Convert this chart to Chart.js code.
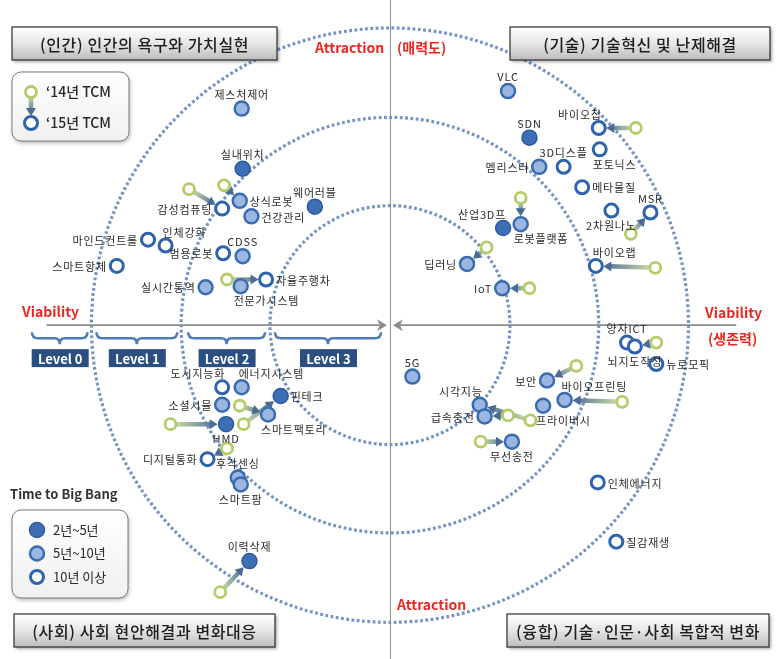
<!DOCTYPE html>
<html>
<head>
<meta charset="utf-8">
<script src="https://cdn.jsdelivr.net/npm/chart.js@4.4.0/dist/chart.umd.min.js"></script>
<style>
  html, body { margin: 0; padding: 0; background: #fff; }
  canvas { display: block; }
</style>
</head>
<body>
<canvas id="tcm-chart" width="777" height="659"></canvas>
<script>
// 기술 이름과 '15년 위치 (viability = x, attraction = y)
const techNames = [
  '제스처제어', '실내위치', '상식로봇', '감성컴퓨팅', '웨어러블', '건강관리', '마인드컨트롤', '인체강화',
  '범용로봇', 'CDSS', '스마트항체', '실시간통역', '자율주행차', '전문가시스템',
  'VLC', '바이오칩', 'SDN', '포토닉스', '3D디스플', '멤리스터', '메타물질', '2차원나노', 'MSR',
  '산업3D프', '로봇플랫폼', '딥러닝', '바이오랩', 'IoT',
  '도시지능화', '에너지시스템', '소셜시뮬', '핀테크', '스마트팩토리', 'HMD', '디지털통화',
  '후각센싱', '스마트팜', '이력삭제',
  '양자ICT', '뇌지도작성', '뉴로모픽', '5G', '보안', '바이오프린팅', '시각지능', '프라이버시',
  '급속충전', '무선송전', '인체에너지', '질감재생'
];
const viability15 = [
  -1.52, -1.51, -1.54, -1.72, -0.77, -1.42, -2.48, -2.30,
  -1.71, -1.51, -2.80, -1.89, -1.27, -1.53,
  1.21, 2.14, 1.43, 2.15, 1.78, 1.53, 1.97, 2.27, 2.67,
  1.16, 1.34, 0.79, 2.11, 1.15,
  -1.72, -1.52, -1.72, -1.12, -1.25, -1.68, -1.87,
  -1.56, -1.53, -1.44,
  2.43, 2.51, 2.73, 0.23, 1.61, 1.79, 0.92, 1.57,
  0.97, 1.25, 2.13, 2.32
];
const attraction15 = [
  2.23, 1.61, 1.28, 1.20, 1.22, 1.12, 0.88, 0.82,
  0.74, 0.71, 0.61, 0.39, 0.47, 0.40,
  2.41, 2.03, 1.93, 1.81, 1.63, 1.63, 1.42, 1.18, 1.16,
  1.00, 1.04, 0.63, 0.61, 0.38,
  -0.64, -0.64, -0.82, -0.73, -0.92, -1.02, -1.38,
  -1.57, -1.64, -2.43,
  -0.18, -0.22, -0.40, -0.53, -0.57, -0.77, -0.82, -0.83,
  -0.94, -1.20, -1.62, -2.23
];
// '14년 위치 (이동이 없는 기술은 null)
const viability14 = [
  null, null, -1.70, -2.06, null, null, null, null,
  null, null, null, null, -1.67, null,
  null, 2.52, null, null, null, null, null, null, 2.47,
  null, 1.34, 0.99, 2.72, 1.43,
  null, null, null, -1.50, -1.54, -2.25, -1.67,
  null, null, -1.74,
  null, 2.73, null, null, 1.91, 2.38, 1.44, null,
  1.21, 0.93, null, null
];
const attraction14 = [
  null, null, 1.44, 1.40, null, null, null, null,
  null, null, null, null, 0.47, null,
  null, 2.03, null, null, null, null, null, null, 0.94,
  null, 1.31, 0.80, 0.59, 0.38,
  null, null, null, -1.02, -0.83, -1.02, -1.27,
  null, null, -2.75,
  null, -0.18, null, null, -0.42, -0.79, -0.98, null,
  -0.93, -1.20, null, null
];
// Time to Big Bang: 1 = 2년~5년, 2 = 5년~10년, 3 = 10년 이상
const bigBang = [
  2, 1, 2, 3, 1, 2, 3, 3,
  3, 2, 3, 2, 3, 2,
  2, 3, 1, 3, 3, 2, 3, 3, 3,
  1, 2, 2, 3, 2,
  3, 2, 2, 1, 2, 1, 3,
  2, 2, 1,
  3, 3, 3, 2, 2, 2, 2, 2,
  2, 2, 3, 3
];
// 라벨 위치
const labelSide = [
  't', 't', 'r', 'l', 't', 'r', 'l', 'tr',
  'l', 't', 'l', 'l', 'r', 'br',
  't', 'tl', 't', 'br', 't', 'l', 'r', 'b', 't',
  'tl', 'br', 'l', 'tr', 'l',
  'tl', 'tr', 'l', 'r', 'br', 'b', 'l',
  't', 'b', 't',
  't', 'b', 'r', 't', 'l', 'tr', 'tl', 'br',
  'l', 'b', 'r', 'r'
];
const rings = [1.23, 2.14, 3.06];
const levelLabels = ['Level 0', 'Level 1', 'Level 2', 'Level 3'];
const bangLabels = ['2년~5년', '5년~10년', '10년 이상'];
const quadrantTitles = ['(인간) 인간의 욕구와 가치실현', '(기술) 기술혁신 및 난제해결',
                        '(사회) 사회 현안해결과 변화대응', '(융합) 기술·인문·사회 복합적 변화'];

const KR = '"Noto Sans CJK KR", "Noto Sans", sans-serif';
const RED = '#e8291f';
const bangStyle = {
  1: { fill: '#3e6eb5', border: '#2d5b9d', width: 1.5, r: 7.5 },
  2: { fill: '#9cb7df', border: '#3a6cb4', width: 2.5, r: 7 },
  3: { fill: '#ffffff', border: '#2e63ae', width: 3, r: 6.5 }
};
const oldStyle = { fill: '#ffffff', border: '#b2cc68', width: 2.8, r: 5.5 };

function roundRect(ctx, x, y, w, h, r) {
  ctx.beginPath();
  ctx.moveTo(x + r, y);
  ctx.arcTo(x + w, y, x + w, y + h, r);
  ctx.arcTo(x + w, y + h, x, y + h, r);
  ctx.arcTo(x, y + h, x, y, r);
  ctx.arcTo(x, y, x + w, y, r);
  ctx.closePath();
}

function drawMarker(ctx, px, py, s) {
  ctx.beginPath();
  ctx.arc(px, py, s.r, 0, Math.PI * 2);
  ctx.fillStyle = s.fill;
  ctx.fill();
  ctx.lineWidth = s.width;
  ctx.strokeStyle = s.border;
  ctx.stroke();
}

function drawMove(ctx, x0, y0, x1, y1, stopAt) {
  const ang = Math.atan2(y1 - y0, x1 - x0);
  const c = Math.cos(ang), s = Math.sin(ang);
  const tx = x1 - c * stopAt, ty = y1 - s * stopAt;
  const g = ctx.createLinearGradient(x0, y0, tx, ty);
  g.addColorStop(0, 'rgba(205,224,160,0.9)');
  g.addColorStop(1, '#4b6b95');
  ctx.strokeStyle = g;
  ctx.lineWidth = 4.5;
  ctx.lineCap = 'butt';
  ctx.beginPath();
  ctx.moveTo(x0, y0);
  ctx.lineTo(tx - c * 6, ty - s * 6);
  ctx.stroke();
  ctx.fillStyle = '#4b6b95';
  ctx.beginPath();
  ctx.moveTo(tx, ty);
  ctx.lineTo(tx - c * 8 - s * 5, ty - s * 8 + c * 5);
  ctx.lineTo(tx - c * 8 + s * 5, ty - s * 8 - c * 5);
  ctx.closePath();
  ctx.fill();
}

// 동심원, 축, 이동 화살표
const backdropPlugin = {
  id: 'backdrop',
  beforeDatasetsDraw(chart) {
    const { ctx, scales: { x, y } } = chart;
    const cx = x.getPixelForValue(0), cy = y.getPixelForValue(0);
    ctx.save();
    ctx.strokeStyle = '#7594c4';
    ctx.lineWidth = 3.2;
    ctx.setLineDash([2.8, 2.5]);
    rings.forEach(r => {
      ctx.beginPath();
      ctx.ellipse(cx, cy, x.getPixelForValue(r) - cx, cy - y.getPixelForValue(r), 0, 0, Math.PI * 2);
      ctx.stroke();
    });
    ctx.setLineDash([]);

    ctx.strokeStyle = '#8c8c8c';
    ctx.lineWidth = 1;
    ctx.beginPath();
    ctx.moveTo(cx + 0.5, 0);
    ctx.lineTo(cx + 0.5, chart.height);
    ctx.stroke();
    ctx.lineWidth = 1.6;
    ctx.beginPath();
    ctx.moveTo(x.getPixelForValue(-3.52), cy);
    ctx.lineTo(cx - 9, cy);
    ctx.moveTo(x.getPixelForValue(3.55), cy);
    ctx.lineTo(cx + 9, cy);
    ctx.stroke();
    ctx.fillStyle = '#8c8c8c';
    [-1, 1].forEach(d => {
      const tip = cx + d * 3;
      ctx.beginPath();
      ctx.moveTo(tip, cy);
      ctx.lineTo(tip + d * 10, cy - 6);
      ctx.lineTo(tip + d * 7, cy);
      ctx.lineTo(tip + d * 10, cy + 6);
      ctx.closePath();
      ctx.fill();
    });

    techNames.forEach((n, i) => {
      if (viability14[i] === null) return;
      drawMove(ctx,
        x.getPixelForValue(viability14[i]), y.getPixelForValue(attraction14[i]),
        x.getPixelForValue(viability15[i]), y.getPixelForValue(attraction15[i]),
        bangStyle[bigBang[i]].r + 1);
    });
    ctx.restore();
  }
};

// 기술 라벨
const sideOffset = {
  t: [0, -14, 'center'], b: [0, 15, 'center'], l: [-10, 1, 'right'], r: [10, 1, 'left'],
  tl: [3, -13, 'right'], tr: [-3, -13, 'left'], br: [-7, 15, 'left']
};
const labelPlugin = {
  id: 'techLabels',
  afterDatasetsDraw(chart) {
    const { ctx, scales: { x, y } } = chart;
    ctx.save();
    ctx.font = '11px ' + KR;
    ctx.letterSpacing = '0.8px';
    ctx.fillStyle = '#2a2a2a';
    ctx.textBaseline = 'middle';
    techNames.forEach((n, i) => {
      const o = sideOffset[labelSide[i]];
      ctx.textAlign = o[2];
      ctx.fillText(n, x.getPixelForValue(viability15[i]) + o[0], y.getPixelForValue(attraction15[i]) + o[1]);
    });
    ctx.restore();
  }
};

// 제목 상자, 범례, Level 표시
const framePlugin = {
  id: 'frames',
  afterDraw(chart) {
    const { ctx, scales: { x, y } } = chart;
    const cx = x.getPixelForValue(0), cy = y.getPixelForValue(0);
    ctx.save();

    // 사분면 제목 상자
    const boxes = [[12, 27, 265, 33], [510, 27, 260, 33], [14, 614, 261, 33], [507, 614, 262, 33]];
    boxes.forEach((b, i) => {
      ctx.save();
      ctx.shadowColor = 'rgba(0,0,0,0.35)';
      ctx.shadowBlur = 3;
      ctx.shadowOffsetX = 2;
      ctx.shadowOffsetY = 2;
      const g = ctx.createLinearGradient(0, b[1], 0, b[1] + b[3]);
      g.addColorStop(0, '#ffffff');
      g.addColorStop(0.5, '#e6e6e6');
      g.addColorStop(1, '#bcbcbc');
      ctx.fillStyle = g;
      ctx.fillRect(b[0], b[1], b[2], b[3]);
      ctx.restore();
      ctx.strokeStyle = '#3a3a3a';
      ctx.lineWidth = 1.3;
      ctx.strokeRect(b[0], b[1], b[2], b[3]);
      ctx.save();
      ctx.fillStyle = '#1e1e1e';
      ctx.font = '500 16px ' + KR;
      ctx.letterSpacing = '0.6px';
      ctx.textAlign = 'center';
      ctx.textBaseline = 'middle';
      ctx.fillText(quadrantTitles[i], b[0] + b[2] / 2, b[1] + b[3] / 2 + 1);
      ctx.restore();
    });

    // 축 이름
    ctx.fillStyle = RED;
    ctx.font = 'bold 14px ' + KR;
    ctx.textBaseline = 'middle';
    ctx.textAlign = 'left';
    ctx.fillText('Attraction', 315, 48);
    ctx.fillText('(매력도)', 397, 48);
    ctx.fillText('Attraction', 397, 605);
    ctx.fillText('Viability', 22, 312);
    ctx.fillText('Viability', 705, 313);
    ctx.fillText('(생존력)', 708, 339);

    // Level 괄호와 상자
    const ends = [
      x.getPixelForValue(-3.67),
      x.getPixelForValue(-rings[2]), x.getPixelForValue(-rings[1]), x.getPixelForValue(-rings[0]),
      cx - 9
    ];
    const spans = [[ends[0], ends[1] - 4], [ends[1] + 5, ends[2] - 4], [ends[2] + 7, ends[3] - 5], [ends[3] + 5, ends[4]]];
    spans.forEach((s, i) => {
      const top = cy + 7, mid = cy + 13, tipY = cy + 19;
      const tip = (s[0] + s[1]) / 2;
      ctx.strokeStyle = '#4f7cb9';
      ctx.lineWidth = 2.5;
      ctx.beginPath();
      ctx.moveTo(s[0], top);
      ctx.quadraticCurveTo(s[0], mid, s[0] + 6, mid);
      ctx.lineTo(tip - 5, mid);
      ctx.quadraticCurveTo(tip, mid, tip, tipY);
      ctx.quadraticCurveTo(tip, mid, tip + 5, mid);
      ctx.lineTo(s[1] - 6, mid);
      ctx.quadraticCurveTo(s[1], mid, s[1], top);
      ctx.stroke();
      ctx.fillStyle = '#2b4f81';
      ctx.fillRect(tip - 28, cy + 24, 57, 18);
      ctx.fillStyle = '#ffffff';
      ctx.font = 'bold 13px ' + KR;
      ctx.textAlign = 'center';
      ctx.fillText(levelLabels[i], tip + 0.5, cy + 33.5);
    });

    // 범례 상자 그리기
    const legendBox = (bx, by, bw, bh) => {
      ctx.save();
      ctx.shadowColor = 'rgba(0,0,0,0.3)';
      ctx.shadowBlur = 4;
      ctx.shadowOffsetX = 1;
      ctx.shadowOffsetY = 2;
      roundRect(ctx, bx, by, bw, bh, 9);
      const g = ctx.createLinearGradient(0, by, 0, by + bh);
      g.addColorStop(0, '#ffffff');
      g.addColorStop(1, '#f0f0f0');
      ctx.fillStyle = g;
      ctx.fill();
      ctx.restore();
      roundRect(ctx, bx, by, bw, bh, 9);
      ctx.strokeStyle = '#7a7a7a';
      ctx.lineWidth = 1;
      ctx.stroke();
    };

    // TCM 범례
    legendBox(12, 72, 117, 69);
    drawMove(ctx, 31, 92, 31, 123, 7);
    drawMarker(ctx, 31, 92, oldStyle);
    drawMarker(ctx, 31, 123, bangStyle[3]);
    ctx.fillStyle = '#2a2a2a';
    ctx.font = '500 14px ' + KR;
    ctx.textAlign = 'left';
    ctx.fillText('\u201814년 TCM', 46, 92);
    ctx.fillText('\u201815년 TCM', 46, 123);

    // Time to Big Bang 범례
    ctx.font = 'bold 13px ' + KR;
    ctx.fillStyle = '#333';
    ctx.fillText('Time to Big Bang', 10, 494);
    legendBox(12, 510, 116, 88);
    bangLabels.forEach((lab, i) => {
      const ly = 530 + i * 23.5;
      drawMarker(ctx, 37, ly, bangStyle[i + 1]);
      ctx.fillStyle = '#2a2a2a';
      ctx.font = '13px ' + KR;
      ctx.fillText(lab, 53, ly);
    });
    ctx.restore();
  }
};

const oldPoints = [];
techNames.forEach((n, i) => {
  if (viability14[i] !== null) oldPoints.push({ x: viability14[i], y: attraction14[i] });
});

const bangSets = [1, 2, 3].map(t => {
  const s = bangStyle[t];
  return {
    label: bangLabels[t - 1],
    data: techNames.map((n, i) => ({ x: viability15[i], y: attraction15[i], t: bigBang[i] }))
                   .filter(p => p.t === t),
    pointRadius: s.r,
    pointBackgroundColor: s.fill,
    pointBorderColor: s.border,
    pointBorderWidth: s.width
  };
});

const ctx = document.getElementById('tcm-chart').getContext('2d');
new Chart(ctx, {
  type: 'scatter',
  data: {
    datasets: [{
      label: '\u201814년 TCM',
      data: oldPoints,
      pointRadius: oldStyle.r,
      pointBackgroundColor: oldStyle.fill,
      pointBorderColor: oldStyle.border,
      pointBorderWidth: oldStyle.width
    }, ...bangSets]
  },
  options: {
    responsive: false,
    animation: false,
    layout: { padding: 0 },
    scales: {
      x: { type: 'linear', min: -3.90, max: 3.87, display: false },
      y: { type: 'linear', min: -3.34, max: 3.25, display: false }
    },
    plugins: {
      legend: { display: false },
      tooltip: { enabled: false }
    }
  },
  plugins: [backdropPlugin, labelPlugin, framePlugin]
});
</script>
</body>
</html>
